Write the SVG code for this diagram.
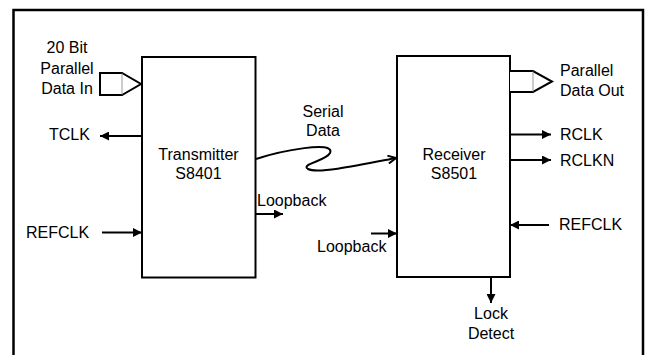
<svg xmlns="http://www.w3.org/2000/svg" width="645" height="355" viewBox="0 0 645 355">
<defs>
<style>
text{font-family:"Liberation Sans",Arial,sans-serif;font-size:16px;fill:#000}
.c{text-anchor:middle}
.box{fill:#fff;stroke:#000;stroke-width:2}
.ln{fill:none;stroke:#000;stroke-width:2}
.bus{fill:#fff;stroke:#000;stroke-width:2;stroke-linejoin:miter}
.div{stroke:#999;stroke-width:1}
</style>
<marker id="ah" viewBox="0 0 10 10" refX="10" refY="5" markerWidth="10" markerHeight="9" markerUnits="userSpaceOnUse" orient="auto">
<path d="M0,0 L10,5 L0,10 Z" fill="#000"/>
</marker>
<marker id="oa" viewBox="0 0 10 10" refX="9" refY="5" markerWidth="10" markerHeight="10" markerUnits="userSpaceOnUse" orient="auto">
<path d="M1,1 L9,5 L1,9" fill="none" stroke="#000" stroke-width="2"/>
</marker>
</defs>
<rect x="0" y="0" width="645" height="355" fill="#fff"/>
<rect x="13.5" y="10" width="629.5" height="360" fill="none" stroke="#000" stroke-width="2.5"/>

<g id="transmitter">
<rect class="box" x="142" y="57" width="113.5" height="220.5"/>
<text class="c" x="198.5" y="160">Transmitter</text>
<text class="c" x="198.5" y="179">S8401</text>
</g>

<g id="receiver">
<rect class="box" x="397" y="56" width="113" height="221"/>
<text class="c" x="454" y="160">Receiver</text>
<text class="c" x="454" y="179">S8501</text>
</g>

<g id="connectors">
<path class="bus" d="M100,73 H122 L141,84 L122,95 H100 Z"/>
<line class="div" x1="122" y1="73.5" x2="122" y2="94.5"/>
<path class="bus" d="M510,71 H533 L552,81.5 L533,92 H510"/>
<line class="div" x1="533" y1="71.5" x2="533" y2="91.5"/>
<line class="ln" x1="142" y1="136" x2="100" y2="136" marker-end="url(#ah)"/>
<line class="ln" x1="102" y1="232.5" x2="142" y2="232.5" marker-end="url(#ah)"/>
<line class="ln" x1="256" y1="214" x2="283" y2="214" marker-end="url(#ah)"/>
<line class="ln" x1="371" y1="233.5" x2="397" y2="233.5" marker-end="url(#ah)"/>
<line class="ln" x1="510" y1="134.5" x2="551" y2="134.5" marker-end="url(#ah)"/>
<line class="ln" x1="510" y1="160" x2="551" y2="160" marker-end="url(#ah)"/>
<line class="ln" x1="549" y1="225" x2="510" y2="225" marker-end="url(#ah)"/>
<line class="ln" x1="491" y1="277" x2="491" y2="303" marker-end="url(#ah)"/>
<path class="ln" d="M256,159 C280,151 336,140 330,153 C326,161 300,164 308,169 C318,174 360,165 396,158" marker-end="url(#oa)"/>
</g>

<g id="labels">
<text class="c" x="67" y="53">20 Bit</text>
<text class="c" x="67" y="73.5">Parallel</text>
<text class="c" x="67" y="94">Data In</text>
<text x="49" y="140">TCLK</text>
<text x="26" y="238">REFCLK</text>
<text class="c" x="323" y="117">Serial</text>
<text class="c" x="323" y="136">Data</text>
<text x="257" y="206">Loopback</text>
<text x="317" y="252">Loopback</text>
<text x="560" y="76">Parallel</text>
<text x="560" y="96">Data Out</text>
<text x="560" y="140">RCLK</text>
<text x="560" y="166">RCLKN</text>
<text x="559" y="230">REFCLK</text>
<text class="c" x="491" y="318.5">Lock</text>
<text class="c" x="491" y="338.5">Detect</text>
</g>
</svg>
